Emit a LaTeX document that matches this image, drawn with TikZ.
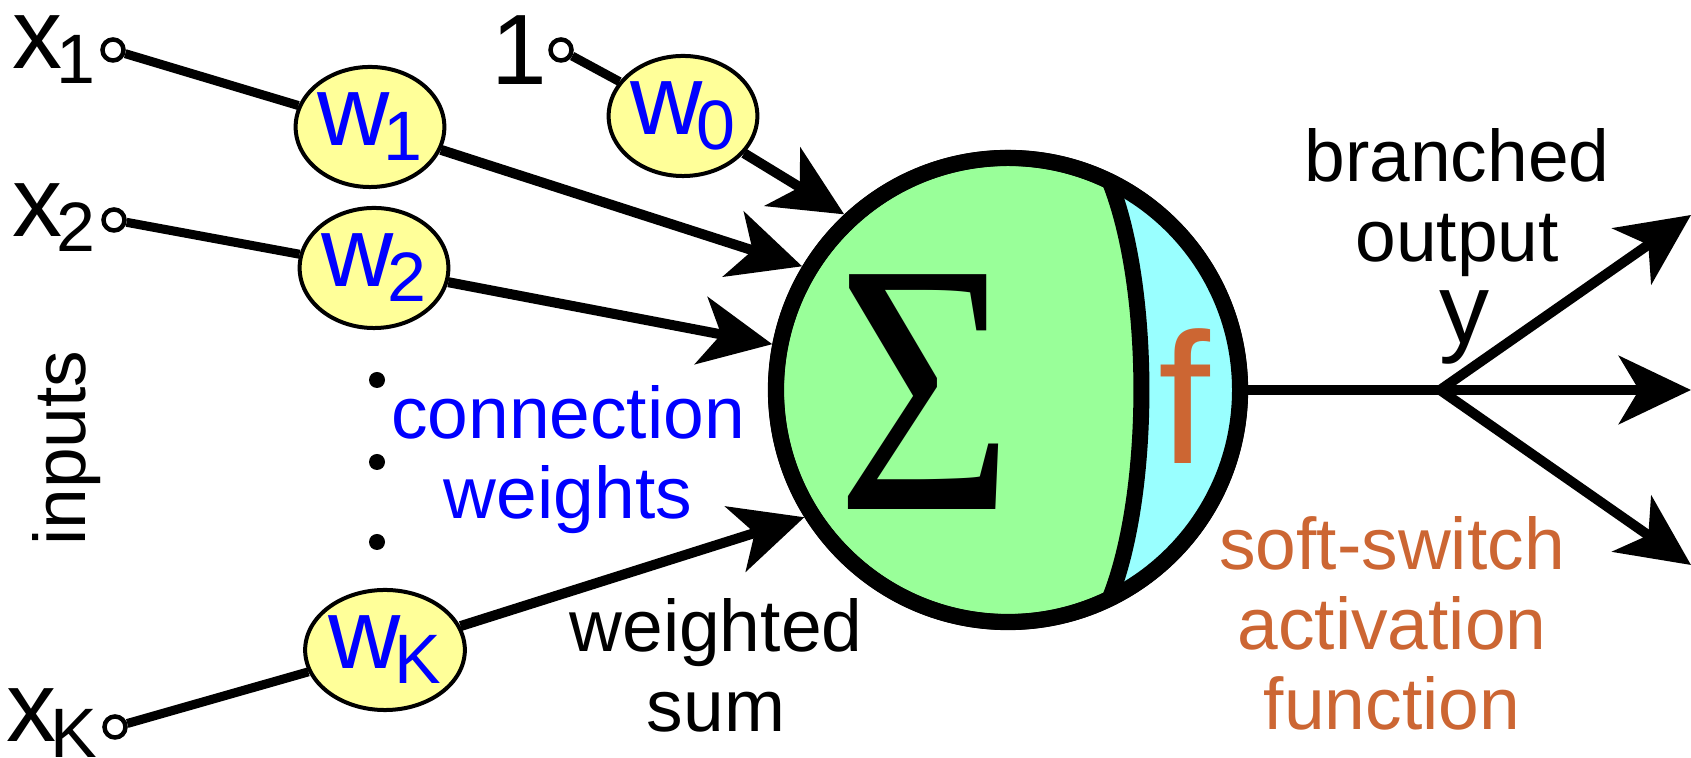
\documentclass[tikz,border=0pt]{standalone}
\usepackage{graphicx}
\usepackage{fontspec}
\setmainfont{Liberation Sans}
\newfontfamily\sigmafont{Liberation Serif}
\usepackage{tikz}
\usetikzlibrary{arrows.meta,calc,shapes.geometric}
\definecolor{sumgreen}{HTML}{99FF99}
\definecolor{actcyan}{HTML}{99FFFF}
\definecolor{wyellow}{HTML}{FFFF99}
\definecolor{wblue}{HTML}{0000FF}
\definecolor{actorange}{HTML}{CC6633}
\newcommand{\bigfont}{\fontsize{28.45}{30}\selectfont}
\newcommand{\subfont}{\fontsize{19.9}{21}\selectfont}
\newcommand{\txtfont}{\fontsize{20.8}{22.8}\selectfont}
\newcommand{\varsub}[2]{#1\kern-0.06cm\raisebox{-0.15cm}{\subfont #2}}
\tikzset{every picture/.append style={font=\txtfont}}

\begin{document}
\begin{tikzpicture}[x=0.01cm,y=0.01cm,
    terminal/.style={circle,draw,fill=white,line width=0.045cm,minimum size=0.21cm,inner sep=0pt},
    weight/.style={ellipse,draw,fill=wyellow,line width=0.04cm,minimum width=1.4cm,minimum height=1.2cm,inner sep=0pt,text=wblue,font=\bigfont},
    wire/.style={line width=0.09cm},
    arrow/.style={line width=0.1cm,-{Stealth[length=0.72cm,width=0.68cm,inset=0.2cm]}},
    lbl/.style={inner sep=0pt,align=center,anchor=base}]
    \useasboundingbox (0,0) rectangle (1691,758);
    % inputs and weights
    \node[terminal] (t0) at (561,708) {};
    \node[terminal] (t1) at (113,708) {};
    \node[terminal] (t2) at (114,538) {};
    \node[terminal] (tk) at (115,31) {};
    \node[anchor=base east,inner sep=0pt,font=\bigfont] (one) at (548,673) {1};
    \node[anchor=base east,inner sep=0pt,font=\bigfont] (x1) at (96,689) {\varsub{x}{1}};
    \node[anchor=base east,inner sep=0pt,font=\bigfont] (x2) at (96,521) {\varsub{x}{2}};
    \node[anchor=base east,inner sep=0pt,font=\bigfont] (xk) at (98,16) {\varsub{x}{K}};
    \node[weight] (w0) at (683,642) {\varsub{w}{0}};
    \node[weight] (w1) at (370,631) {\varsub{w}{1}};
    \node[weight] (w2) at (374,490) {\varsub{w}{2}};
    \node[weight] (wk) at (385,108) {\varsub{w}{K}};
    \foreach \yy in {378,296,216} \fill (377,\yy) circle[radius=8];
    % neuron
    \node[circle,draw,fill=sumgreen,line width=0.16cm,minimum size=4.64cm,inner sep=0pt] (sum) at (1008,368) {};
    \fill[actcyan] ($(sum.center)+(64:226)$) arc[start angle=64,end angle=-64,radius=226]
      .. controls (1152,266) and (1152,470) .. ($(sum.center)+(64:226)$) -- cycle;
    \draw[line width=0.16cm] ($(sum.center)+(64:232)$) .. controls (1152,470) and (1152,266) .. ($(sum.center)+(-64:232)$);
    \draw[line width=0.16cm] (sum.center) circle[radius=232];
    \node[font=\sigmafont\fontsize{102}{102}\selectfont,inner sep=0pt] (sigma) at (925,366) {\scalebox{0.85}[1]{Σ}};
    \node[anchor=base,inner sep=0pt,font=\fontsize{53}{53}\selectfont,text=actorange] (act) at (1184,294) {f};
    \foreach \t/\w/\a in {t0/w0/133,t1/w1/149,t2/w2/169,tk/wk/212} {
      \draw[wire] (\t) -- (\w);
      \draw[arrow] (\w) -- (sum.\a);
    }
    % output
    \coordinate (br) at (1440,368);
    \coordinate (out1) at (1691,543);
    \coordinate (out2) at (1691,368);
    \coordinate (out3) at (1691,193);
    \draw[line width=0.1cm] (sum) -- (br);
    \foreach \i in {1,2,3} \draw[arrow] (br) -- (out\i);
    % labels
    \node[lbl,rotate=90] (inp) at (85,310) {inputs};
    \node[lbl,text=wblue] (cw) at (568,239) {connection\\weights};
    \node[lbl] (ws) at (716,26) {weighted\\sum};
    \node[lbl] (bo) at (1457,496) {branched\\output};
    \node[anchor=base,inner sep=0pt,font=\bigfont] (ylbl) at (1464,414) {y};
    \node[lbl,text=actorange] (ssaf) at (1392,28) {soft-switch\\activation\\function};
  \end{tikzpicture}
\end{document}
